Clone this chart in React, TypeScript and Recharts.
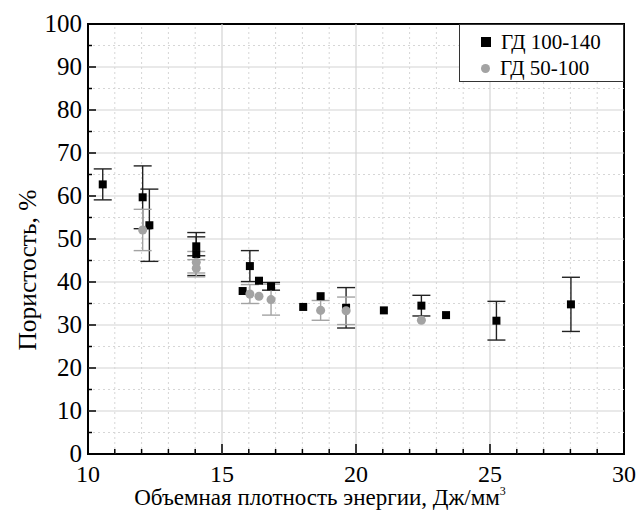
import {
  ScatterChart,
  Scatter,
  XAxis,
  YAxis,
  ZAxis,
  ErrorBar,
  ReferenceLine,
  ReferenceArea,
  Legend,
} from "recharts";

const FONT = "Liberation Serif";

// ГД 100-140
const hdX = [10.55, 12.04, 12.29, 14.04, 14.04, 15.77, 16.04, 16.38, 16.83, 18.03, 18.68, 19.63, 21.04, 22.44, 23.36, 25.24, 28.02];
const hdY = [62.7, 59.7, 53.2, 48.3, 46.5, 37.9, 43.7, 40.3, 39.0, 34.2, 36.7, 34.0, 33.4, 34.5, 32.3, 31.0, 34.8];
const hdErr = [3.6, 7.3, 8.4, 2.2, 5.0, 0, 3.6, 0, 0.9, 0, 0, 4.7, 0, 2.4, 0, 4.5, 6.3];

// ГД 50-100
const ldX = [12.04, 14.04, 14.04, 16.04, 16.38, 16.83, 18.68, 19.63, 22.44];
const ldY = [52.1, 44.6, 43.2, 37.2, 36.7, 35.9, 33.4, 33.3, 31.1];
const ldErr = [4.8, 2.5, 2.0, 2.2, 0, 3.6, 2.3, 3.2, 0];

const xTicks = [10, 11, 12, 13, 14, 15, 16, 17, 18, 19, 20, 21, 22, 23, 24, 25, 26, 27, 28, 29, 30];
const yTicks = [0, 5, 10, 15, 20, 25, 30, 35, 40, 45, 50, 55, 60, 65, 70, 75, 80, 85, 90, 95, 100];
const xMajorGrid = [15, 20, 25];
const xMinorGrid = [11, 12, 13, 14, 16, 17, 18, 19, 21, 22, 23, 24, 26, 27, 28, 29];
const yMajorGrid = [10, 20, 30, 40, 50, 60, 70, 80, 90];
const yMinorGrid = [5, 15, 25, 35, 45, 55, 65, 75, 85, 95];

const hdData = hdX.map((x, i) => ({ x, y: hdY[i], err: hdErr[i] }));
const ldData = ldX.map((x, i) => ({ x, y: ldY[i], err: ldErr[i] }));

const GRAY = "#a3a3a3";

const XTick = (props: any) => {
  const { x, y, payload } = props;
  const v = payload.value;
  const major = v % 5 === 0;
  const axisY = y - 8;
  return (
    <g>
      <line x1={x} x2={x} y1={axisY} y2={axisY - (major ? 10 : 5)} stroke="#000" strokeWidth={1.5} />
      {major && (
        <text x={x} y={axisY + 28} textAnchor="middle" style={{ fontFamily: FONT, fontSize: 24 }} fill="#000">
          {v}
        </text>
      )}
    </g>
  );
};

const YTick = (props: any) => {
  const { x, y, payload } = props;
  const v = payload.value;
  const major = v % 10 === 0;
  const axisX = x + 6;
  return (
    <g>
      <line x1={axisX} x2={axisX + (major ? 8 : 4)} y1={y} y2={y} stroke="#000" strokeWidth={1.5} />
      {major && (
        <text x={x} y={y} dy="0.3em" textAnchor="end" style={{ fontFamily: FONT, fontSize: 25 }} fill="#000">
          {v}
        </text>
      )}
    </g>
  );
};

const XTitle = (props: any) => {
  const { viewBox } = props;
  return (
    <text
      x={viewBox.x + viewBox.width / 2 - 36}
      y={viewBox.y + 51}
      textAnchor="middle"
      style={{ fontFamily: FONT, fontSize: 23 }}
      fill="#000"
    >
      Объемная плотность энергии, Дж/мм
      <tspan dy={-10} style={{ fontSize: 12 }}>3</tspan>
    </text>
  );
};

const YTitle = (props: any) => {
  const { viewBox } = props;
  const cx = viewBox.x + 36;
  const cy = viewBox.y + viewBox.height / 2 + 31;
  return (
    <text
      x={cx}
      y={cy}
      textAnchor="middle"
      transform={`rotate(-90 ${cx} ${cy})`}
      style={{ fontFamily: FONT, fontSize: 25.5 }}
      fill="#000"
    >
      Пористость, %
    </text>
  );
};

const renderLegend = (props: any) => {
  const { payload } = props;
  return (
    <div
      style={{
        border: "1px solid #333",
        background: "#fff",
        width: 165,
        height: 58,
        boxSizing: "border-box",
        padding: "4px 0 0 21px",
        fontFamily: FONT,
        fontSize: 21,
        color: "#000",
      }}
    >
      {(payload || []).map((entry: any) => (
        <div key={entry.value} style={{ display: "flex", alignItems: "center", height: 26 }}>
          <span
            style={{
              display: "inline-block",
              width: entry.type === "square" ? 10 : 9,
              height: entry.type === "square" ? 10 : 9,
              borderRadius: entry.type === "square" ? 0 : "50%",
              background: entry.color,
              marginRight: 10,
            }}
          />
          <span>{entry.value}</span>
        </div>
      ))}
    </div>
  );
};

export default function App() {
  return (
    <div style={{ position: "absolute", left: 0, top: 0, background: "#fff", fontFamily: FONT }}>
      <ScatterChart width={638} height={510} margin={{ top: 24, right: 14, left: 0, bottom: 0 }}>
        <XAxis
          type="number"
          dataKey="x"
          domain={[10, 30]}
          ticks={xTicks}
          interval={0}
          tickSize={0}
          tickMargin={8}
          tickLine={false}
          axisLine={false}
          tick={XTick}
          height={56}
          label={XTitle}
        />
        <YAxis
          type="number"
          dataKey="y"
          domain={[0, 100]}
          ticks={yTicks}
          interval={0}
          tickSize={0}
          tickMargin={6}
          tickLine={false}
          axisLine={false}
          tick={YTick}
          width={88}
          label={YTitle}
        />
        <ZAxis zAxisId="sq" range={[132, 132]} />
        <ZAxis zAxisId="ci" range={[85, 85]} />
        {xMinorGrid.map((v) => (
          <ReferenceLine key={`xm${v}`} x={v} stroke="#d6d6d6" strokeDasharray="2 3" />
        ))}
        {yMinorGrid.map((v) => (
          <ReferenceLine key={`ym${v}`} y={v} stroke="#d6d6d6" strokeDasharray="2 3" />
        ))}
        {xMajorGrid.map((v) => (
          <ReferenceLine key={`xM${v}`} x={v} stroke="#d4d4d4" strokeWidth={1.2} />
        ))}
        {yMajorGrid.map((v) => (
          <ReferenceLine key={`yM${v}`} y={v} stroke="#d4d4d4" strokeWidth={1.2} />
        ))}
        <Scatter
          name="ГД 100-140"
          data={hdData}
          zAxisId="sq"
          shape="square"
          fill="#000"
          legendType="square"
          isAnimationActive={false}
        >
          <ErrorBar dataKey="err" direction="y" width={9} stroke="#222" strokeWidth={1.4} isAnimationActive={false} />
        </Scatter>
        <Scatter
          name="ГД 50-100"
          data={ldData}
          zAxisId="ci"
          shape="circle"
          fill={GRAY}
          legendType="circle"
          isAnimationActive={false}
        >
          <ErrorBar dataKey="err" direction="y" width={9} stroke={GRAY} strokeWidth={1.4} isAnimationActive={false} />
        </Scatter>
        <ReferenceArea x1={10} x2={30} y1={0} y2={100} fill="none" stroke="#000" strokeWidth={2} />
        <Legend
          verticalAlign="top"
          align="left"
          content={renderLegend}
          wrapperStyle={{ top: 24, left: 459, width: 165, height: 0, overflow: "visible" }}
        />
      </ScatterChart>
    </div>
  );
}
